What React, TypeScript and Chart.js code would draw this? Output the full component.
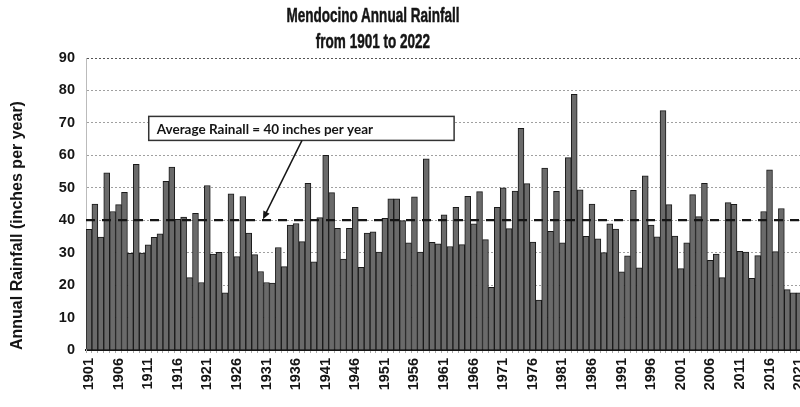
import React, { useEffect, useRef } from 'react';
import { Chart, registerables } from 'chart.js';

Chart.register(...registerables);

const TITLE_LINES = ['Mendocino Annual Rainfall', 'from 1901 to 2022'];
const Y_TITLE = 'Annual Rainfall (inches per year)';
const ANNOTATION_TEXT = 'Average Rainall = 40 inches per year';
const AVERAGE = 40;

const FIRST_YEAR = 1901;
const YEARS: string[] = Array.from({ length: 122 }, (_, i) => String(FIRST_YEAR + i));

// Annual rainfall (inches), 1901 .. 2022 (2022 lies outside the picture)
const RAINFALL_1901_1930 = [
  37.2, 45.0, 34.8, 54.6, 42.7, 44.8, 48.6, 29.8, 57.2, 29.9,
  32.4, 34.7, 35.8, 52.0, 56.4, 40.3, 41.0, 22.3, 42.1, 20.8,
  50.7, 29.6, 30.1, 17.6, 48.1, 28.8, 47.3, 36.0, 29.4, 24.2,
];
const RAINFALL_1931_1960 = [
  20.8, 20.6, 31.6, 25.7, 38.5, 39.0, 33.4, 51.4, 27.2, 40.8,
  60.0, 48.5, 37.5, 28.0, 37.5, 44.0, 25.5, 36.0, 36.4, 30.2,
  40.6, 46.6, 46.6, 39.9, 33.0, 47.2, 30.2, 58.9, 33.2, 32.7,
];
const RAINFALL_1961_1990 = [
  41.7, 31.9, 44.0, 32.5, 47.4, 38.9, 48.8, 34.0, 19.3, 44.0,
  50.0, 37.4, 49.0, 68.3, 51.3, 33.3, 15.4, 56.1, 36.6, 48.9,
  33.0, 59.3, 78.8, 49.4, 35.0, 45.0, 34.3, 30.0, 38.9, 37.3,
];
const RAINFALL_1991_2022: (number | null)[] = [
  24.1, 29.0, 49.2, 25.3, 53.7, 38.5, 34.9, 73.8, 44.8, 35.1,
  25.1, 33.0, 47.9, 41.1, 51.4, 27.6, 29.6, 22.3, 45.4, 44.9,
  30.4, 30.2, 22.1, 29.1, 42.7, 55.5, 30.3, 43.6, 18.6, 17.6,
  17.6, null,
];
const RAINFALL = [
  ...RAINFALL_1901_1930,
  ...RAINFALL_1931_1960,
  ...RAINFALL_1961_1990,
  ...RAINFALL_1991_2022,
];

// annotation anchor in data units (category index, value)
const BOX_FROM = { index: 10.1, value: 72.0 };
const BOX_TO = { index: 61.7, value: 64.6 };
const ARROW_FROM = { index: 36.0, value: 64.6 };
const ARROW_TO = { index: 29.4, value: 40.3 };

const INK = '#151515';
const FONT = "'Liberation Sans', Arial, sans-serif";

const averagePlugin = {
  id: 'averageLine',
  afterDatasetsDraw(chart: any) {
    const { ctx, chartArea, scales } = chart;
    const y = scales.y.getPixelForValue(AVERAGE);
    ctx.save();
    ctx.strokeStyle = INK;
    ctx.lineWidth = 2.2;
    ctx.setLineDash([9, 7]);
    ctx.beginPath();
    ctx.moveTo(chartArea.left, y);
    ctx.lineTo(chartArea.right, y);
    ctx.stroke();
    ctx.restore();
  },
};

const annotationPlugin = {
  id: 'avgAnnotation',
  afterDatasetsDraw(chart: any) {
    const { ctx, scales } = chart;
    const x = scales.x;
    const y = scales.y;
    const left = x.getPixelForValue(BOX_FROM.index);
    const right = x.getPixelForValue(BOX_TO.index);
    const top = y.getPixelForValue(BOX_FROM.value);
    const bottom = y.getPixelForValue(BOX_TO.value);
    ctx.save();
    ctx.fillStyle = '#ffffff';
    ctx.fillRect(left, top, right - left, bottom - top);
    ctx.strokeStyle = '#333';
    ctx.lineWidth = 1.5;
    ctx.strokeRect(left, top, right - left, bottom - top);
    ctx.fillStyle = INK;
    ctx.font = "bold 13.5px Lato, 'Open Sans', sans-serif";
    ctx.textBaseline = 'middle';
    ctx.textAlign = 'left';
    ctx.fillText(ANNOTATION_TEXT, left + 8, (top + bottom) / 2 + 1);

    const x1 = x.getPixelForValue(ARROW_FROM.index);
    const y1 = y.getPixelForValue(ARROW_FROM.value);
    const x2 = x.getPixelForValue(ARROW_TO.index);
    const y2 = y.getPixelForValue(ARROW_TO.value);
    const ang = Math.atan2(y2 - y1, x2 - x1);
    const head = 8;
    ctx.strokeStyle = INK;
    ctx.lineWidth = 1.5;
    ctx.beginPath();
    ctx.moveTo(x1, y1);
    ctx.lineTo(x2 - Math.cos(ang) * head * 0.6, y2 - Math.sin(ang) * head * 0.6);
    ctx.stroke();
    ctx.beginPath();
    ctx.moveTo(x2, y2);
    ctx.lineTo(x2 - head * Math.cos(ang) + 3.5 * Math.sin(ang), y2 - head * Math.sin(ang) - 3.5 * Math.cos(ang));
    ctx.lineTo(x2 - head * Math.cos(ang) - 3.5 * Math.sin(ang), y2 - head * Math.sin(ang) + 3.5 * Math.cos(ang));
    ctx.closePath();
    ctx.fill();
    ctx.restore();
  },
};

function RainChart() {
  const ref = useRef<HTMLCanvasElement | null>(null);
  useEffect(() => {
    if (!ref.current) return;
    const chart = new Chart(ref.current, {
      type: 'bar',
      data: {
        labels: YEARS,
        datasets: [
          {
            data: RAINFALL,
            backgroundColor: '#6a6a6a',
            borderColor: '#1a1a1a',
            borderWidth: 1,
            categoryPercentage: 1,
            barPercentage: 1,
          },
        ],
      },
      options: {
        animation: false,
        responsive: false,
        layout: { padding: { left: 8, right: 4, top: 58, bottom: 0 } },
        plugins: {
          legend: { display: false },
          title: { display: false },
          tooltip: { enabled: false },
        },
        scales: {
          x: {
            grid: { display: true, drawOnChartArea: false, drawTicks: true, tickLength: 3, color: '#aaa' },
            border: { display: true, color: INK, width: 2 },
            ticks: {
              autoSkip: false,
              minRotation: 90,
              maxRotation: 90,
              padding: 5,
              color: INK,
              font: { family: FONT, size: 14.5, weight: 'bold' },
              callback: (_v: any, i: number) => (i % 5 === 0 ? YEARS[i] : ''),
            },
            afterFit: (s: any) => {
              s.height = 57;
              s.paddingLeft = 0;
              s.paddingRight = 0;
            },
          },
          y: {
            min: 0,
            max: 90,
            ticks: {
              stepSize: 10,
              padding: 11,
              color: INK,
              font: { family: FONT, size: 14.5, weight: 'bold' },
            },
            grid: {
              drawTicks: false,
              lineWidth: 1,
              color: (c: any) => (c.tick && c.tick.value === 90 ? '#555' : '#a0a0a0'),
            },
            border: { display: true, color: '#bbb', width: 1, dash: [2, 2] },
            title: {
              display: true,
              text: Y_TITLE,
              align: 'start',
              color: INK,
              font: { family: FONT, size: 16, weight: 'bold' },
              padding: { top: 0, bottom: 0 },
            },
            afterFit: (s: any) => {
              s.width = 78;
            },
          },
        },
      },
      plugins: [averagePlugin, annotationPlugin],
    } as any);
    return () => chart.destroy();
  }, []);
  return <canvas ref={ref} width={812} height={407} style={{ display: 'block', width: 812, height: 407 }} />;
}

export default function App() {
  return (
    <div
      style={{
        position: 'absolute',
        left: 0,
        top: 0,
        width: 800,
        height: 407,
        overflow: 'hidden',
        background: '#fff',
      }}
    >
      <RainChart />
      <div
        style={{
          position: 'absolute',
          left: 0,
          top: 2,
          width: 746,
          textAlign: 'center',
          fontFamily: "'Liberation Sans', Arial, sans-serif",
          fontWeight: 'bold',
          fontSize: 20.5,
          lineHeight: '26px',
          color: INK,
          WebkitTextStroke: '0.5px #151515',
        }}
      >
        <div style={{ transform: 'scaleX(0.66)' }}>{TITLE_LINES[0]}</div>
        <div style={{ transform: 'scaleX(0.66)' }}>{TITLE_LINES[1]}</div>
      </div>
    </div>
  );
}
